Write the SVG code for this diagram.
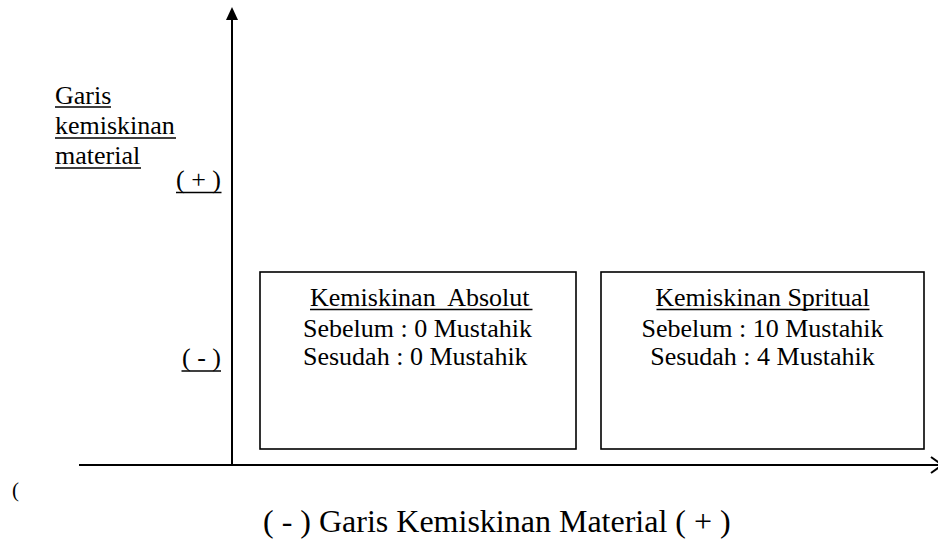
<svg xmlns="http://www.w3.org/2000/svg" width="938" height="539" viewBox="0 0 938 539">
  <style>
    text { font-family: "Liberation Serif", "Times New Roman", serif; fill: #000; }
    .t26 { font-size: 26px; }
    .big { font-size: 32px; }
    .ul { stroke: #000; stroke-width: 1.6; }
    .box { fill: #fff; stroke: #000; stroke-width: 1.6; }
    .axis { stroke: #000; stroke-width: 2; fill: none; }
  </style>
  <rect width="938" height="539" fill="#fff"/>

  <g id="connectors">
    <line class="axis" x1="232" y1="17" x2="232" y2="466"/>
    <polygon points="232,7 226,20 238,20" fill="#000"/>
    <line class="axis" x1="79" y1="465" x2="938" y2="465"/>
    <polyline class="axis" points="931,457 942,465 931,473"/>
  </g>

  <g id="y-axis-label">
    <text class="t26" x="55" y="104">Garis</text>
    <line class="ul" x1="55" y1="107" x2="111" y2="107"/>
    <text class="t26" x="55" y="134">kemiskinan</text>
    <line class="ul" x1="55" y1="138" x2="176" y2="138"/>
    <text class="t26" x="55" y="164">material</text>
    <line class="ul" x1="55" y1="168" x2="141" y2="168"/>
  </g>

  <g id="y-plus">
    <text class="t26" x="176" y="188" xml:space="preserve">( + )</text>
    <line class="ul" x1="176" y1="192.5" x2="221.5" y2="192.5"/>
  </g>
  <g id="y-minus">
    <text class="t26" x="182" y="366" xml:space="preserve">( - )</text>
    <line class="ul" x1="181.5" y1="371" x2="221" y2="371"/>
  </g>

  <g id="box-absolut">
    <rect class="box" x="260" y="272" width="316" height="177"/>
    <text class="t26" x="310" y="306" xml:space="preserve">Kemiskinan  Absolut</text>
    <line class="ul" x1="310" y1="309.5" x2="532.5" y2="309.5"/>
    <text class="t26" x="303" y="337">Sebelum : 0 Mustahik</text>
    <text class="t26" x="303" y="365">Sesudah : 0 Mustahik</text>
  </g>

  <g id="box-spritual">
    <rect class="box" x="601" y="272" width="323" height="177"/>
    <text class="t26" x="762.5" y="306" text-anchor="middle">Kemiskinan Spritual</text>
    <line class="ul" x1="656.5" y1="309.5" x2="869.5" y2="309.5"/>
    <text class="t26" x="762.5" y="337" text-anchor="middle">Sebelum : 10 Mustahik</text>
    <text class="t26" x="762.5" y="365" text-anchor="middle">Sesudah : 4 Mustahik</text>
  </g>

  <g id="stray-paren">
    <text x="12" y="497" style="font-size:21px">(</text>
  </g>

  <g id="x-axis-label">
    <text class="big" x="263" y="532" xml:space="preserve">( - ) Garis Kemiskinan Material ( + )</text>
  </g>
</svg>
